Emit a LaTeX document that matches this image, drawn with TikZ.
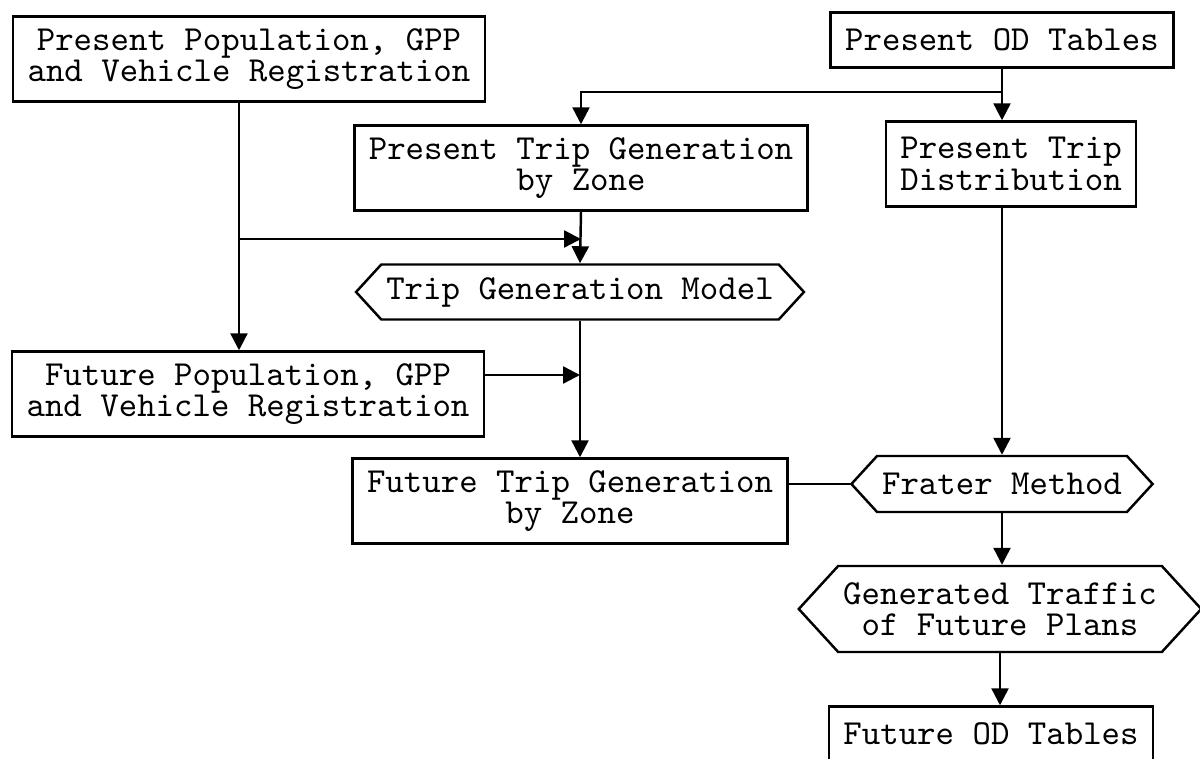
\documentclass[tikz,border=0pt]{standalone}
\usetikzlibrary{arrows.meta,shapes.symbols}

\tikzset{
  box/.style={draw, line width=0.7pt, font=\ttfamily\fontsize{10}{9}\selectfont,
    align=center, inner xsep=1.45mm, inner ysep=0pt},
  onebox/.style={box, minimum height=5.5mm},
  twobox/.style={box, minimum height=8.5mm},
  hexbox/.style={box, shape=signal, signal to=west and east,
    signal pointer angle=95, inner xsep=0.5mm},
  flow/.style={line width=0.7pt, -{Triangle[length=1.7mm, width=1.7mm]}},
}

\begin{document}
\begin{tikzpicture}[x=0.1mm, y=-0.1mm]
    \clip (0, 0) rectangle (1200, 759);
    \fill[white] (0, 0) rectangle (1200, 759);

    \node[twobox] (prespop) at (249, 59) {Present Population, GPP\\and Vehicle Registration};
    \node[onebox] (presod) at (1002, 40) {Present OD Tables};
    \node[twobox] (prestrip) at (581, 168) {Present Trip Generation\\by Zone};
    \node[twobox] (ptd) at (1011, 164) {Present Trip\\Distribution};
    \node[hexbox, minimum height=5.5mm] (tgm) at (580, 292) {Trip Generation Model};
    \node[twobox] (futpop) at (248, 394) {Future Population, GPP\\and Vehicle Registration};
    \node[twobox] (futtrip) at (570, 501) {Future Trip Generation\\by Zone};
    \node[hexbox, minimum height=5.6mm] (frater) at (1002, 484) {Frater Method};
    \node[hexbox, minimum height=8.6mm] (gentraffic) at (1000, 609) {Generated Traffic\\of Future Plans};
    \node[onebox] (futod) at (991, 734) {Future OD Tables};

    % OD tables split to both present boxes
    \coordinate (split) at (1002, 92);
    \draw[flow] (presod.south) -- (presod.south |- ptd.north);
    \draw[flow] (split) -| (prestrip.north);

    % population data down the left side
    \coordinate (popline) at (239, 239);
    \draw[flow] (prespop.south -| popline) -- (futpop.north -| popline);
    \draw[flow] (popline) -- (popline -| prestrip.south);
    \draw[flow] (prestrip.south) -- (tgm.north);
    \draw[flow] (tgm.south) -- (tgm.south |- futtrip.north);
    \coordinate (futpopout) at ([yshift=1.9mm]futpop.east);
    \draw[flow] (futpopout) -- (futpopout -| tgm.south);

    % distribution chain on the right
    \draw (frater.west) -- (frater.west -| futtrip.east);
    \draw[flow] (presod.south |- ptd.south) -- (frater.north);
    \draw[flow] (frater.south) -- (frater.south |- gentraffic.north);
    \draw[flow] (gentraffic.south) -- (gentraffic.south |- futod.north);
\end{tikzpicture}
\end{document}
